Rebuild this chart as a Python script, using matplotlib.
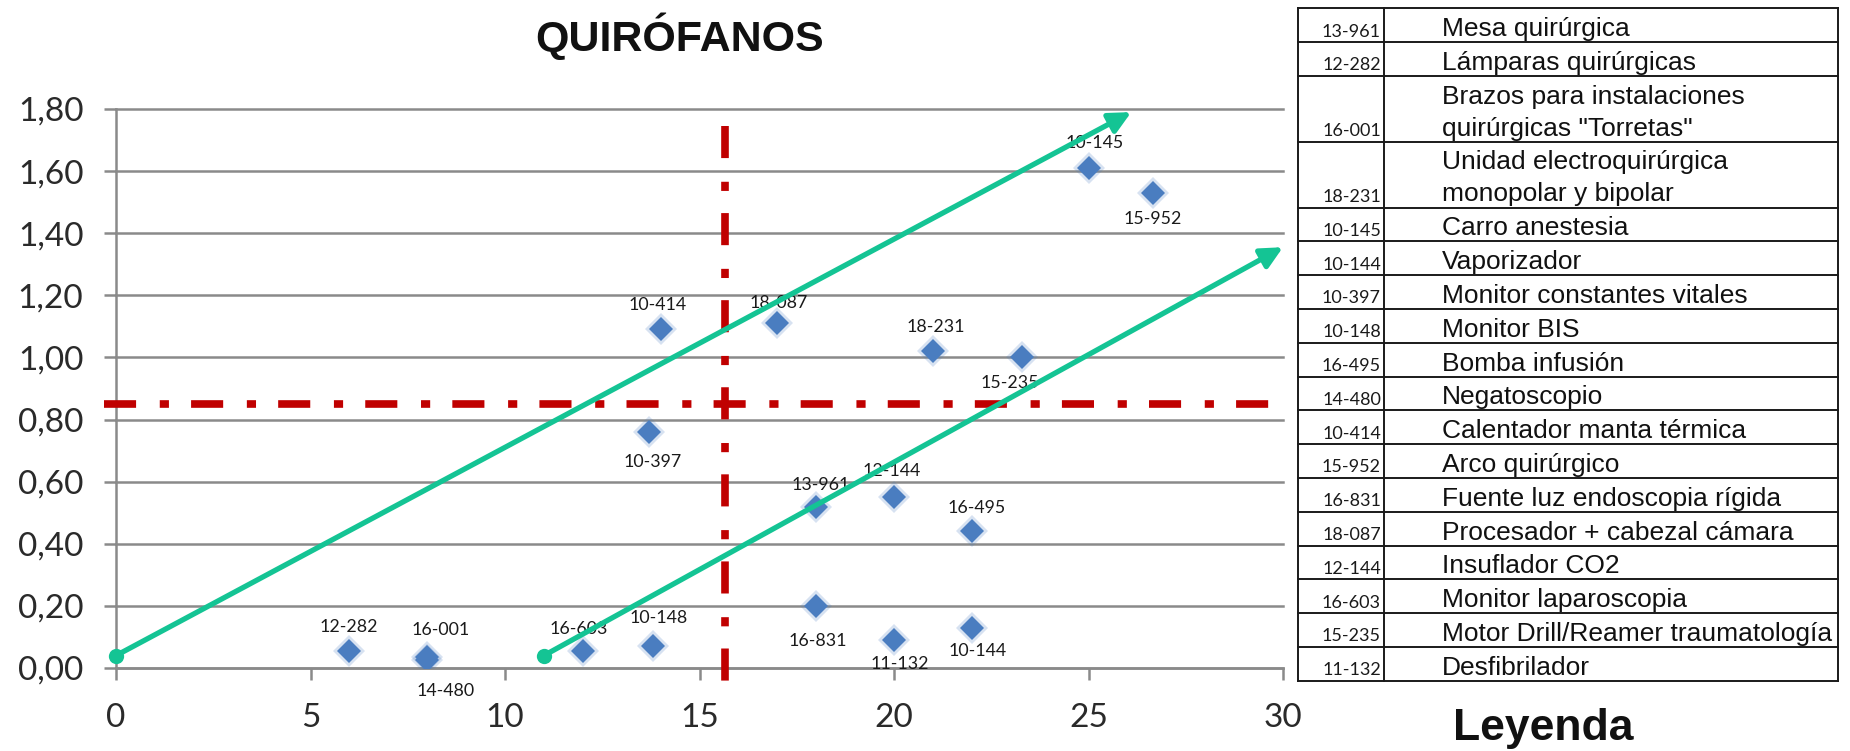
import matplotlib
matplotlib.use("Agg")
import matplotlib.pyplot as plt
from matplotlib.ticker import FixedLocator, FixedFormatter

# ---- scatter data: equipment code, x value, y value ----
codes = ["10-414", "10-397", "18-087", "18-231", "15-235", "10-145", "15-952",
         "12-282", "16-001", "14-480", "16-603", "10-148", "13-961", "12-144",
         "16-495", "16-831", "11-132", "10-144"]
x_vals = [14.0, 13.7, 17.0, 21.0, 23.3, 25.0, 26.65,
          6.0, 8.0, 8.0, 12.0, 13.8, 18.0, 20.0,
          22.0, 18.0, 20.0, 22.0]
y_vals = [1.09, 0.76, 1.11, 1.02, 1.00, 1.61, 1.53,
          0.055, 0.035, 0.025, 0.055, 0.07, 0.52, 0.55,
          0.44, 0.20, 0.09, 0.13]

# label placement around each marker (pixels, y up)
label_dx = [-3, 4, 1, 3, -13, 6, 0, -1, 13, 18, -4, 6, 5, -2, 5, 2, 6, 6]
label_dy = [24, -30, 20, 24, -26, 25, -26, 24, 27, -31, 22, 28, 22, 26, 23, -35, -24, -23]

# ---- reference thresholds and trend arrows ----
x_threshold = 15.65
y_threshold = 0.85
h_line_x = [-0.3, 29.7]
v_line_y = [1.745, -0.055]
arrow_starts = [(0.0, 0.04), (11.0, 0.04)]
arrow_ends = [(26.1, 1.79), (30.0, 1.355)]

# ---- axes ticks ----
x_ticks = [0, 5, 10, 15, 20, 25, 30]
x_tick_labels = ["0", "5", "10", "15", "20", "25", "30"]
y_ticks = [0.0, 0.2, 0.4, 0.6, 0.8, 1.0, 1.2, 1.4, 1.6, 1.8]
y_tick_labels = ["0,00", "0,20", "0,40", "0,60", "0,80", "1,00", "1,20",
                 "1,40", "1,60", "1,80"]

# ---- legend table ----
legend_codes = ["13-961", "12-282", "16-001", "18-231", "10-145", "10-144",
                "10-397", "10-148", "16-495", "14-480", "10-414", "15-952",
                "16-831", "18-087", "12-144", "16-603", "15-235", "11-132"]
legend_names = ["Mesa quirúrgica",
                "Lámparas quirúrgicas",
                "Brazos para instalaciones\nquirúrgicas \"Torretas\"",
                "Unidad electroquirúrgica\nmonopolar y bipolar",
                "Carro anestesia",
                "Vaporizador",
                "Monitor constantes vitales",
                "Monitor BIS",
                "Bomba infusión",
                "Negatoscopio",
                "Calentador manta térmica",
                "Arco quirúrgico",
                "Fuente luz endoscopia rígida",
                "Procesador + cabezal cámara",
                "Insuflador CO2",
                "Monitor laparoscopia",
                "Motor Drill/Reamer traumatología",
                "Desfibrilador"]

W, H = 1850, 751
GRID = "#8a8a8a"
BLUE = "#4A7DC0"
RED = "#C00000"
GREEN = "#14C494"
LABEL_FONT = "Lato"

fig = plt.figure(figsize=(W / 100, H / 100), dpi=100)
fig.patch.set_facecolor("white")

# plot area in pixel terms
left_px, right_px, top_px, bottom_px = 116, 1283, 109, 668
ax = fig.add_axes([left_px / W, (H - bottom_px) / H,
                   (right_px - left_px) / W, (bottom_px - top_px) / H])
ax.set_xlim(0, 30)
ax.set_ylim(0, 1.8)

for s in ["top", "right"]:
    ax.spines[s].set_visible(False)
for s in ["left", "bottom"]:
    ax.spines[s].set_color(GRID)
    ax.spines[s].set_linewidth(1.8)

ax.xaxis.set_major_locator(FixedLocator(x_ticks))
ax.xaxis.set_major_formatter(FixedFormatter(x_tick_labels))
ax.yaxis.set_major_locator(FixedLocator(y_ticks))
ax.yaxis.set_major_formatter(FixedFormatter(y_tick_labels))
ax.tick_params(axis="both", direction="out", length=8.5, width=1.8,
               color=GRID, labelsize=24, labelcolor="#2a2a2a")
ax.tick_params(axis="y", pad=15)
ax.tick_params(axis="x", pad=17)
for lab in ax.get_xticklabels() + ax.get_yticklabels():
    lab.set_fontfamily(LABEL_FONT)

ax.yaxis.grid(True, color=GRID, linewidth=1.8)
ax.set_axisbelow(True)
for gl in ax.get_ygridlines():
    gl.set_clip_on(False)

# threshold lines (dash-dot)
pattern = (0, (4.2, 3.1, 1.2, 2.9))
ax.plot(h_line_x, [y_threshold, y_threshold], color=RED, lw=5.5,
        linestyle=pattern, dash_capstyle="butt", clip_on=False, zorder=3)
ax.plot([x_threshold, x_threshold], v_line_y, color=RED, lw=5.5,
        linestyle=pattern, dash_capstyle="butt", clip_on=False, zorder=3)

# scatter markers with a soft glow
ax.plot(x_vals, y_vals, linestyle="none", marker="D", markersize=16,
        color=BLUE, alpha=0.22, markeredgewidth=0, zorder=4)
ax.plot(x_vals, y_vals, linestyle="none", marker="D", markersize=12.5,
        color=BLUE, markeredgewidth=0, zorder=5)

for code, x, y, dx, dy in zip(codes, x_vals, y_vals, label_dx, label_dy):
    ax.annotate(code, (x, y), xytext=(dx, dy), textcoords="offset pixels",
                ha="center", va="center", fontsize=12.8,
                fontfamily=LABEL_FONT, color="#1a1a1a", zorder=6)

# trend arrows
for (x0, y0), (x1, y1) in zip(arrow_starts, arrow_ends):
    ax.annotate("", xy=(x1, y1), xytext=(x0, y0),
                arrowprops=dict(arrowstyle="-|>,head_length=0.65,head_width=0.32",
                                mutation_scale=20, lw=3.8, color=GREEN,
                                shrinkA=0, shrinkB=0),
                annotation_clip=False, zorder=8)
    ax.plot([x0], [y0], marker="o", markersize=11, color=GREEN,
            markeredgewidth=0, clip_on=False, zorder=9)

# overlay in pixel coordinates for title, table and caption
ov = fig.add_axes([0, 0, 1, 1])
ov.set_xlim(0, W)
ov.set_ylim(H, 0)
ov.axis("off")
ov.patch.set_visible(False)

ov.text(680, 51, "QUIRÓFANOS", ha="center", va="baseline", fontsize=31,
        fontweight="bold", fontfamily="Liberation Sans", color="#111111")
ov.text(1543, 740, "Leyenda", ha="center", va="baseline", fontsize=32,
        fontweight="bold", fontfamily="Liberation Sans", color="#111111")

t_left, t_mid, t_right = 1298, 1384, 1838
row_h, extra_line_h = 33.8, 32.0
y = 8.3
line_kw = dict(color="#1a1a1a", lw=1.4, solid_capstyle="projecting")
ov.plot([t_left, t_right], [y, y], **line_kw)
row_top = y
for code, name in zip(legend_codes, legend_names):
    lines = name.split("\n")
    bottom = row_top + row_h + extra_line_h * (len(lines) - 1)
    ov.plot([t_left, t_right], [bottom, bottom], **line_kw)
    ov.text(1381, bottom - 5.5, code, ha="right", va="baseline",
            fontsize=13, fontfamily=LABEL_FONT, color="#1a1a1a")
    for i, ln in enumerate(lines):
        base = bottom - 6 - extra_line_h * (len(lines) - 1 - i)
        ov.text(1442, base, ln, ha="left", va="baseline", fontsize=19,
                fontfamily="Liberation Sans", color="#111111")
    row_top = bottom
for xv in (t_left, t_mid, t_right):
    ov.plot([xv, xv], [8.3, row_top], **line_kw)

fig.savefig("out.png", dpi=100, facecolor="white")
